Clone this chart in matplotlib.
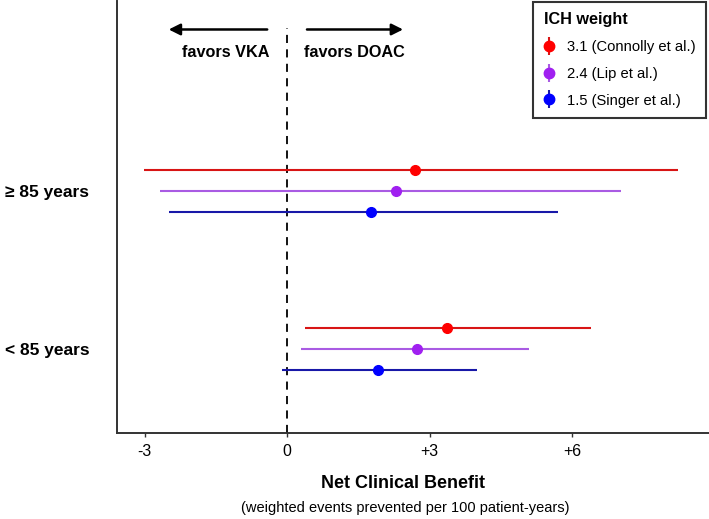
import matplotlib
matplotlib.use("Agg")
import matplotlib.pyplot as plt
from matplotlib.lines import Line2D
from matplotlib.legend_handler import HandlerTuple

plt.rcParams['font.family'] = ['Liberation Sans', 'DejaVu Sans']

groups = ["≥ 85 years", "< 85 years"]
series = ["3.1 (Connolly et al.)", "2.4 (Lip et al.)", "1.5 (Singer et al.)"]
point_colors = ["#FF0000", "#A020F0", "#0000FF"]
line_colors = ["#D81515", "#A95BE3", "#1818A8"]

# estimates per group (rows) and series (cols)
est = [[2.69, 2.29, 1.77],
       [3.37, 2.74, 1.92]]
lo = [[-3.01, -2.67, -2.48],
      [0.38, 0.29, -0.11]]
hi = [[8.23, 7.03, 5.71],
      [6.40, 5.09, 3.99]]

group_y = [2.0, 1.0]
offsets = [0.133, 0.0, -0.133]

xticks = [-3, 0, 3, 6]
xticklabels = ["-3", "0", "+3", "+6"]

fig = plt.figure(figsize=(7.09, 5.19), dpi=100)
ax = fig.add_axes([117/709, 1 - 433/519, 1 - 117/709, 432/519])

for gi, gy in enumerate(group_y):
    for si in range(len(series)):
        y = gy + offsets[si]
        ax.hlines(y, lo[gi][si], hi[gi][si], color=line_colors[si], lw=1.5, zorder=2)
        ax.plot(est[gi][si], y, 'o', color=point_colors[si], ms=7, zorder=3)

ax.set_xlim(-3.58, 8.88)
ax.set_ylim(0.47, 3.20)

# zero line
ax.plot([0, 0], [0.47, 3.03], color='black', lw=1.3, ls=(0, (4.5, 3.5)), zorder=1)

# arrows
ax.annotate("", xy=(-2.55, 3.02), xytext=(-0.36, 3.02),
            arrowprops=dict(arrowstyle='-|>', color='black', lw=1.8, mutation_scale=17))
ax.annotate("", xy=(2.5, 3.02), xytext=(0.36, 3.02),
            arrowprops=dict(arrowstyle='-|>', color='black', lw=1.8, mutation_scale=17))
ax.text(-0.38, 2.875, "favors VKA", ha='right', va='center', fontsize=11.7, fontweight='bold')
ax.text(0.36, 2.875, "favors DOAC", ha='left', va='center', fontsize=11.7, fontweight='bold')

ax.set_xticks(xticks)
ax.set_xticklabels(xticklabels, fontsize=11.5)
ax.set_yticks(group_y)
ax.set_yticklabels(groups, fontsize=12.5, fontweight='bold')
ax.tick_params(axis='y', length=0, pad=20)
ax.tick_params(axis='x', length=3, color='#333333', width=1, pad=5)

for s in ['top', 'right']:
    ax.spines[s].set_visible(False)
for s in ['left', 'bottom']:
    ax.spines[s].set_color('#333333')
    ax.spines[s].set_linewidth(1.4)

fig.text(403/709, 1 - 483/519, "Net Clinical Benefit", ha='center', va='center',
         fontsize=13, fontweight='bold')
fig.text(405/709, 1 - 508/519, "(weighted events prevented per 100 patient-years)",
         ha='center', va='center', fontsize=10.5)

handles = []
for si in range(len(series)):
    bar = Line2D([], [], marker='|', markersize=13, markeredgewidth=1.5,
                 color=line_colors[si], linestyle='none')
    dot = Line2D([], [], marker='o', markersize=7.5, color=point_colors[si], linestyle='none')
    handles.append((bar, dot))

leg = ax.legend(handles, series, handler_map={tuple: HandlerTuple(ndivide=1)},
                loc='upper right', bbox_to_anchor=(0.995, 0.998), borderaxespad=0,
                title="ICH weight", title_fontproperties={'weight': 'bold', 'size': 11.7},
                fontsize=10.6, frameon=True, fancybox=False, alignment='left',
                handlelength=0.8, handletextpad=0.8, labelspacing=0.87, borderpad=0.7)
leg.get_frame().set_edgecolor('black')
leg.get_frame().set_linewidth(1.5)

fig.savefig("out.png", dpi=100)
